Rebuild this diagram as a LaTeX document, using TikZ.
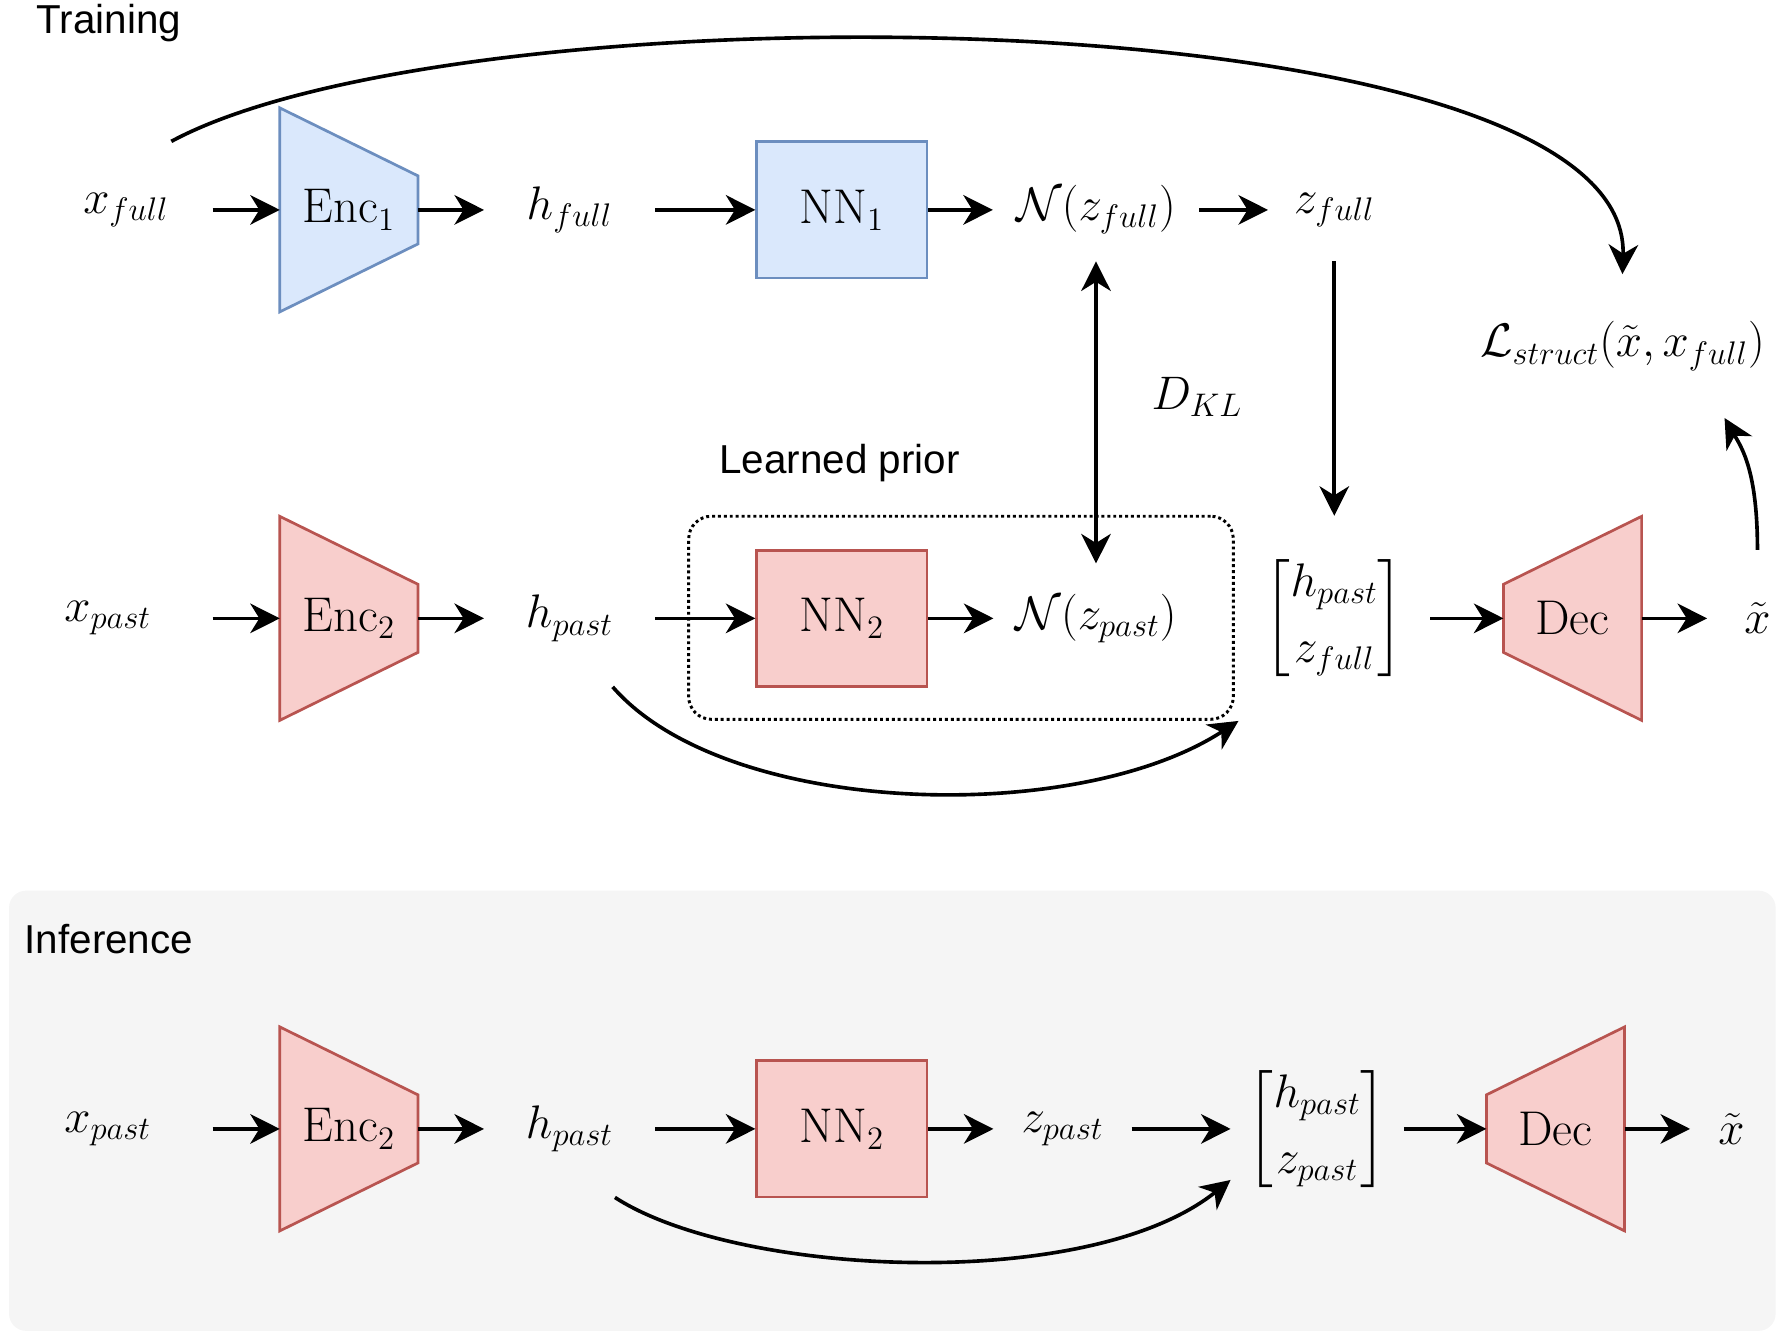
\documentclass[tikz,border=0pt]{standalone}
\usepackage{amsmath, amssymb}
\usepackage{fontspec}
\setsansfont{Liberation Sans}
\usepackage{tikz}
\usetikzlibrary{arrows.meta, backgrounds}

\definecolor{encblue}{HTML}{DAE8FC}
\definecolor{encblueline}{HTML}{6C8EBF}
\definecolor{encred}{HTML}{F8CECC}
\definecolor{encredline}{HTML}{B85450}
\definecolor{panelgray}{HTML}{F5F5F5}

\newcommand{\mathfont}{\fontsize{21.5}{25}\selectfont}
\newcommand{\labelfont}{\sffamily\fontsize{17.8}{21.4}\selectfont}

\begin{document}
\begin{tikzpicture}[x=0.5pt, y=-0.5pt,
    >={Stealth[length=13pt,width=13pt,inset=4pt]},
    conn/.style={line width=1.6pt},
    var/.style={font=\mathfont, inner sep=0pt},
    section/.style={font=\labelfont, inner sep=0pt},
    netbox/.style={draw, line width=1.2pt, minimum width=75pt, minimum height=60pt, font=\mathfont},
    coder/.style={minimum width=60.5pt, minimum height=89.5pt, inner sep=0pt, font=\mathfont},
    bluenet/.style={fill=encblue, draw=encblueline, line width=1.2pt},
    rednet/.style={fill=encred, draw=encredline, line width=1.2pt},
    priorbox/.style={draw, line width=1.3pt, dash pattern=on 1.3pt off 1.3pt, rounded corners=10pt},
    panel/.style={fill=panelgray, rounded corners=7.5pt}]
    \useasboundingbox (0,0) rectangle (1568,1177);

    % Training
    \node[section] (train-lbl) at (96,20) {Training};
    \node[var, minimum width=76pt, minimum height=60pt] (xfull) at (111,185) {$x_{full}$};
    \node[coder] (enc1) at (307.5,185) {$\mathrm{Enc}_1$};
    \node[var, minimum width=75pt] (hfull) at (502,185) {$h_{full}$};
    \node[netbox, bluenet] (nn1) at (742,185) {$\mathrm{NN}_1$};
    \node[var, minimum width=90.5pt, minimum height=45pt] (nfull) at (966,185) {$\mathcal{N}(z_{full})$};
    \node[var, minimum width=58pt, minimum height=45pt] (zfull) at (1176,185) {$z_{full}$};
    \node[var, minimum height=63pt] (lstruct) at (1430,305) {$\mathcal{L}_{struct}(\tilde{x}, x_{full})$};
    \node[var] (dkl) at (1055,350) {$D_{KL}$};

    \node[var, minimum width=92pt] (xpast2) at (95,545) {$x_{past}$};
    \node[coder] (enc2) at (307.5,545) {$\mathrm{Enc}_2$};
    \node[var, minimum width=75pt, minimum height=60pt] (hpast2) at (502,545) {$h_{past}$};
    \node[netbox, rednet] (nn2) at (742,545) {$\mathrm{NN}_2$};
    \node[var, minimum width=90pt, minimum height=48pt] (npast) at (966,545) {$\mathcal{N}(z_{past})$};
    \node[priorbox, minimum width=240pt, minimum height=89.5pt] (prior) at (847,544.5) {};
    \node[section] (prior-lbl) at (740,408) {Learned prior};
    \node[var, minimum width=84pt, minimum height=90pt] (m2) at (1176,545) {$\begin{bmatrix} h_{past} \\[4pt] z_{full} \end{bmatrix}$};
    \node[coder] (dec2) at (1386,545) {$\mathrm{Dec}$};
    \node[var, minimum width=44pt, minimum height=60pt] (xtilde2) at (1549,545) {$\tilde{x}$};

    % Inference
    \node[section] (infer-lbl) at (96,828) {Inference};
    \node[var, minimum width=92pt] (xpast3) at (95,995) {$x_{past}$};
    \node[coder] (enc3) at (307.5,995) {$\mathrm{Enc}_2$};
    \node[var, minimum width=75pt, minimum height=60pt] (hpast3) at (502,995) {$h_{past}$};
    \node[netbox, rednet] (nn3) at (742,995) {$\mathrm{NN}_2$};
    \node[var, minimum width=60.5pt] (zpast) at (936.5,995) {$z_{past}$};
    \node[var, minimum width=76pt] (m3) at (1161,995) {$\begin{bmatrix} h_{past} \\[4pt] z_{past} \end{bmatrix}$};
    \node[coder] (dec3) at (1371,995) {$\mathrm{Dec}$};
    \node[var, minimum width=36pt] (xtilde3) at (1526,995) {$\tilde{x}$};

    % Shapes
    \begin{scope}[on background layer]
        \node[panel, minimum width=778.5pt, minimum height=194pt] (infer) at (786.5,979) {};
        \foreach \n/\s in {enc1/bluenet, enc2/rednet, enc3/rednet} {
            \draw[\s] (\n.north west) -- ([yshift=15pt]\n.east) -- ([yshift=-15pt]\n.east) -- (\n.south west) -- cycle;
        }
        \foreach \n in {dec2, dec3} {
            \draw[rednet] ([yshift=15pt]\n.west) -- (\n.north east) -- (\n.south east) -- ([yshift=-15pt]\n.west) -- cycle;
        }
    \end{scope}

    % Arrows
    \foreach \a/\b in {xfull/enc1, enc1/hfull, hfull/nn1, nn1/nfull, nfull/zfull,
                       xpast2/enc2, enc2/hpast2, hpast2/nn2, nn2/npast, m2/dec2, dec2/xtilde2, zfull/m2,
                       xpast3/enc3, enc3/hpast3, hpast3/nn3, nn3/zpast, zpast/m3, m3/dec3, dec3/xtilde3} {
        \draw[conn, ->] (\a) -- (\b);
    }
    \draw[conn, <->] (nfull) -- (npast);
    \draw[conn, ->] ([xshift=20pt]xfull.north) .. controls +(260,-140) and +(8,-247) .. (lstruct.north);
    \draw[conn, ->] (xtilde2.north) .. controls +(0,-70) and +(15,26) .. ([xshift=45pt]lstruct.south);
    \draw[conn, ->] ([xshift=19pt]hpast2.south) .. controls +(100,115) and +(-143,93) .. (m2.south west);
    \draw[conn, ->] ([xshift=20pt]hpast3.south) .. controls +(108,70) and +(-125,100) .. ([yshift=-22.5pt]m3.west);
\end{tikzpicture}
\end{document}
